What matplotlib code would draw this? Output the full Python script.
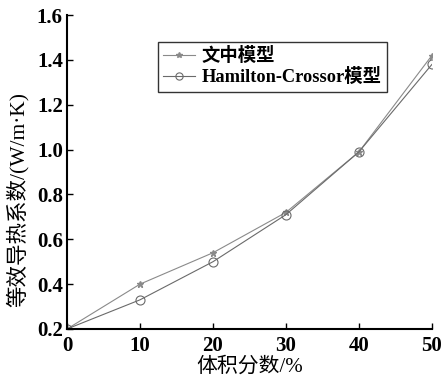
import matplotlib
matplotlib.use("Agg")
import matplotlib.pyplot as plt

x = [0, 10, 20, 30, 40, 50]
model_text = [0.20, 0.40, 0.54, 0.72, 0.99, 1.42]
model_hc = [0.20, 0.33, 0.50, 0.71, 0.99, 1.38]
labels = ["文中模型", "Hamilton-Crossor模型"]
xlabel = "体积分数/%"
ylabel = "等效导热系数/(W/m·K)"

fam = ["Liberation Serif", "Noto Sans CJK SC"]
plt.rcParams['font.family'] = fam

fig = plt.figure(figsize=(4.48, 3.79), dpi=100)
ax = fig.add_axes([0.1496, 0.132, 0.8144, 0.828])

ax.plot(x, model_text, color="#8a8a8a", lw=0.8, marker="*", ms=5,
        mfc="#8a8a8a", mec="#8a8a8a", label=labels[0])
ax.plot(x, model_hc, color="#6a6a6a", lw=0.8, marker="o", ms=6.5,
        mfc="none", mec="#6a6a6a", mew=0.8, label=labels[1])

ax.set_xlim(0, 50)
ax.set_ylim(0.2, 1.6)
ax.set_xticks([0, 10, 20, 30, 40, 50])
ax.set_yticks([0.2, 0.4, 0.6, 0.8, 1.0, 1.2, 1.4, 1.6])
ax.set_yticklabels(["0.2", "0.4", "0.6", "0.8", "1.0", "1.2", "1.4", "1.6"])
ax.tick_params(direction="in", labelsize=15, length=4, width=1)
ax.tick_params(axis="x", pad=5)
ax.tick_params(axis="y", pad=3)
for lab in ax.get_xticklabels() + ax.get_yticklabels():
    lab.set_fontweight("bold")
ax.spines["top"].set_visible(False)
ax.spines["right"].set_visible(False)
ax.spines["left"].set_linewidth(1.5)
ax.spines["bottom"].set_linewidth(1.5)

ax.set_xlabel(xlabel, fontsize=15, labelpad=1)
ax.set_ylabel(ylabel, fontsize=15.5)
ax.yaxis.set_label_coords(-0.105, 0.414)

leg = ax.legend(loc="upper left", bbox_to_anchor=(0.249, 0.915), fontsize=13.2,
                frameon=True, fancybox=False, edgecolor="black",
                handlelength=1.75, handletextpad=0.33, borderpad=0.3,
                labelspacing=0.15, borderaxespad=0, markerscale=0.8)
leg.get_frame().set_linewidth(1.0)
for t in leg.get_texts():
    t.set_fontweight("bold")

fig.savefig("out.png", dpi=100)
